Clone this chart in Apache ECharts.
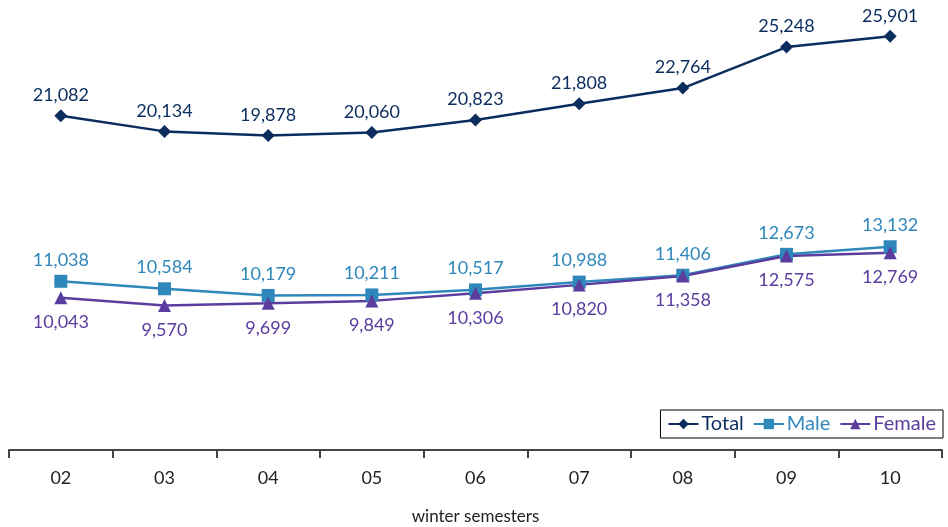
<!DOCTYPE html>
<html>
<head>
<meta charset="utf-8">
<script src="https://cdn.jsdelivr.net/npm/echarts@6/dist/echarts.min.js"></script>
<style>html,body{margin:0;padding:0;background:#fff}#c{width:948px;height:527px}</style>
</head>
<body>
<div id="c"></div>
<script>
var categories = ['02','03','04','05','06','07','08','09','10'];
var total = [21082,20134,19878,20060,20823,21808,22764,25248,25901];
var male = [11038,10584,10179,10211,10517,10988,11406,12673,13132];
var female = [10043,9570,9699,9849,10306,10820,11358,12575,12769];

var FONT = 'Lato';
var cTotal = '#0a2d5e', cMale = '#2f87bb', cFemale = '#5a3d9e';
function fmt(p){ return p.value.toLocaleString('en-US'); }

var chart = echarts.init(document.getElementById('c'));
chart.setOption({
  animation: false,
  textStyle: {fontFamily: FONT},
  grid: {left: 9, right: 6, top: 10, bottom: 77, outerBoundsMode: 'none', containLabel: false},
  legend: {
    right: 5, top: 410,
    borderColor: '#000', borderWidth: 1, padding: [4, 7, 4, 7],
    itemWidth: 30, itemHeight: 13, itemGap: 9,
    textStyle: {fontSize: 20, fontFamily: FONT, padding: [0, 0, 0, -2]},
    data: [
      {name: 'Total', textStyle: {color: cTotal}},
      {name: 'Male', textStyle: {color: cMale}},
      {name: 'Female', textStyle: {color: cFemale}}
    ]
  },
  xAxis: {
    type: 'category', data: categories, boundaryGap: true,
    axisLine: {lineStyle: {color: '#444', width: 2}},
    axisTick: {show: true, length: 8, lineStyle: {color: '#444', width: 2}},
    axisLabel: {fontSize: 18, color: '#222', margin: 19, fontFamily: FONT},
    name: 'winter semesters', nameLocation: 'middle', nameGap: 58,
    nameTextStyle: {fontSize: 17, color: '#222', fontFamily: FONT}
  },
  yAxis: {type: 'value', min: 800, max: 27500, show: false, splitLine: {show: false}},
  series: [
    {name: 'Total', type: 'line', data: total, symbol: 'diamond', symbolSize: 13,
     itemStyle: {color: cTotal}, lineStyle: {color: cTotal, width: 2.5},
     label: {show: true, position: 'top', distance: 5, fontSize: 18, color: cTotal, formatter: fmt, fontFamily: FONT}},
    {name: 'Male', type: 'line', data: male, symbol: 'rect', symbolSize: 13,
     itemStyle: {color: cMale}, lineStyle: {color: cMale, width: 2.5},
     label: {show: true, position: 'top', distance: 6, fontSize: 18, color: cMale, formatter: fmt, fontFamily: FONT}},
    {name: 'Female', type: 'line', data: female, symbol: 'triangle', symbolSize: 13,
     itemStyle: {color: cFemale}, lineStyle: {color: cFemale, width: 2.5},
     label: {show: true, position: 'bottom', distance: 9, fontSize: 18, color: cFemale, formatter: fmt, fontFamily: FONT}}
  ]
});
</script>
</body>
</html>
